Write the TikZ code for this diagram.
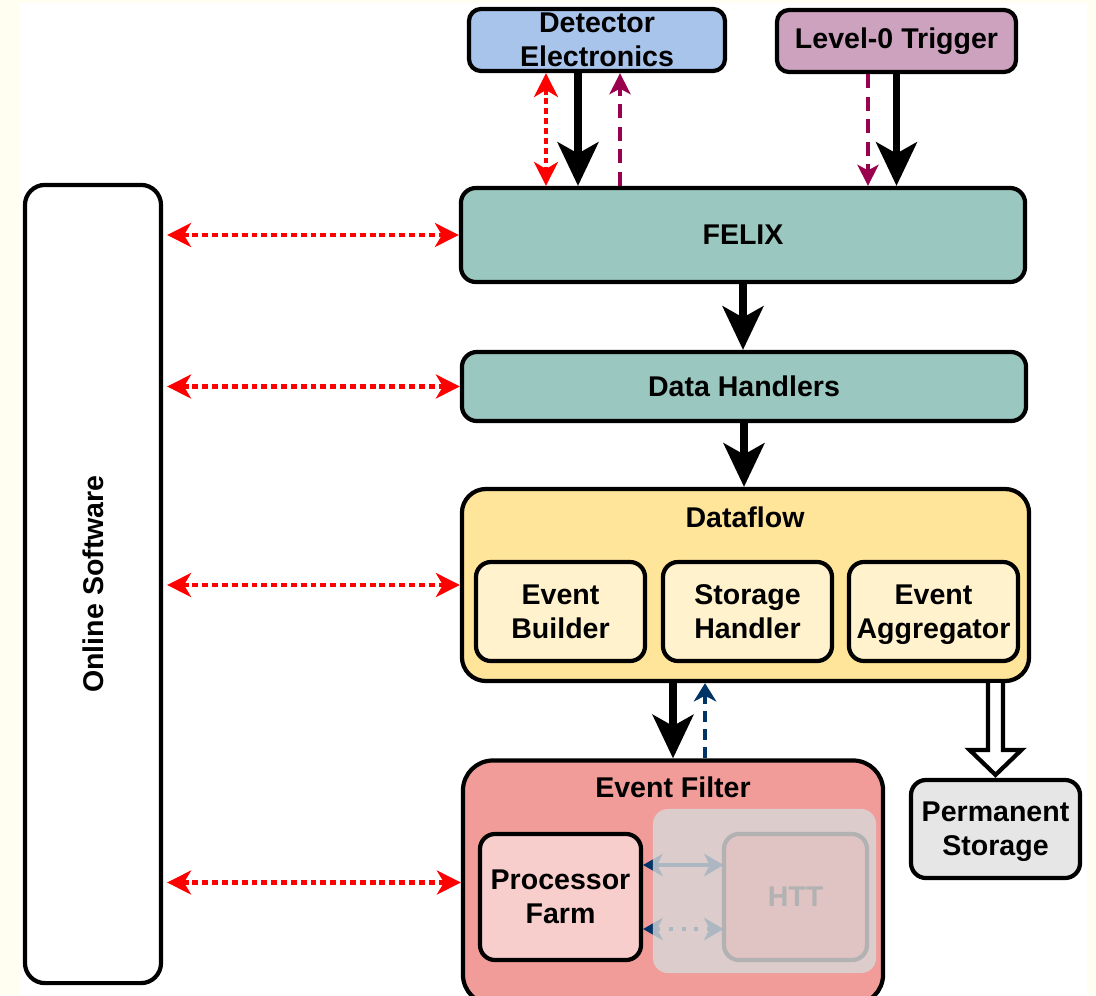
\documentclass[tikz,border=0pt]{standalone}
\usepackage{fontspec}
\setmainfont{Liberation Sans}
\usetikzlibrary{arrows.meta,calc}

\definecolor{detblue}{HTML}{A9C4EB}
\definecolor{trigpink}{HTML}{CDA2BE}
\definecolor{felixgreen}{HTML}{9AC7BF}
\definecolor{dfyellow}{HTML}{FFE599}
\definecolor{dfinner}{HTML}{FFF2CC}
\definecolor{efred}{HTML}{F19C99}
\definecolor{efinner}{HTML}{F8CECC}
\definecolor{storegray}{HTML}{E6E6E6}
\definecolor{ttcpurple}{HTML}{99004D}
\definecolor{busynavy}{HTML}{003366}
\definecolor{paper}{HTML}{FFFEF0}

\begin{document}
\begin{tikzpicture}[x=0.025cm,y=-0.025cm,
  every node/.style={font=\fontsize{20.3}{24}\selectfont\bfseries},
  blk/.style={draw,line width=3pt,rounded corners=0.375cm,align=center,inner sep=0pt},
  data/.style={line width=5pt,-{Stealth[length=31pt,width=29pt,inset=8pt]}},
  ctrl/.style={red,line width=3pt,dash pattern=on 4.2pt off 2.8pt,
    {Stealth[length=17pt,width=17pt,inset=5pt]}-{Stealth[length=17pt,width=17pt,inset=5pt]}},
  ttc/.style={ttcpurple,line width=2.8pt,dash pattern=on 10pt off 6pt,-{Stealth[length=15pt,width=15pt,inset=4pt]}},
  busy/.style={busynavy,line width=2.8pt,dash pattern=on 8pt off 5pt,-{Stealth[length=13pt,width=16pt,inset=4pt]}},
  link/.style={busynavy,line width=2.2pt,{Stealth[length=14pt,width=16pt,inset=4pt]}-{Stealth[length=14pt,width=16pt,inset=4pt]}},
]
\useasboundingbox (0,0) rectangle (1096,995);
\clip (0,0) rectangle (1096,995);
\fill[paper] (0,0) rectangle (1096,995);
\fill[white] (19,3) rectangle (1087,995);

% boxes
\node[blk,rounded corners=0.5cm,minimum width=3.4cm,minimum height=19.95cm,
  label={[rotate=90,font=\fontsize{20.3}{24}\selectfont\bfseries]center:Online Software}] (osw) at (93,584) {};
\node[blk,fill=detblue,rounded corners=0.3cm,minimum width=6.4cm,minimum height=1.55cm] (det) at (597,40) {Detector\\Electronics};
\node[blk,fill=trigpink,rounded corners=0.3cm,minimum width=5.975cm,minimum height=1.55cm] (lzero) at (896.5,41) {Level-0 Trigger};
\node[blk,fill=felixgreen,minimum width=14.1cm,minimum height=2.35cm] (felix) at (743,235) {FELIX};
\node[blk,fill=felixgreen,minimum width=14.1cm,minimum height=1.725cm] (dh) at (744,386.5) {Data Handlers};
\node[blk,fill=dfyellow,rounded corners=0.6cm,minimum width=14.175cm,minimum height=4.8cm] (df) at (745.5,585) {};
\node (dftitle) at (745,517) {Dataflow};
\node[blk,fill=dfinner,minimum width=4.225cm,minimum height=2.475cm] (eb) at (560.5,611.5) {Event\\Builder};
\node[blk,fill=dfinner,minimum width=4.225cm,minimum height=2.475cm] (sh) at (747.5,611.5) {Storage\\Handler};
\node[blk,fill=dfinner,minimum width=4.225cm,minimum height=2.475cm] (ea) at (933.5,611.5) {Event\\\smash{Aggregator}};
\node[blk,fill=efred,rounded corners=0.75cm,minimum width=10.5cm,minimum height=6.1cm] (ef) at (673,882.5) {};
\node (eftitle) at (673,787) {Event Filter};
\node[blk,fill=efinner,minimum width=4.025cm,minimum height=3.15cm] (pf) at (560.5,897) {Processor\\Farm};
\node[blk,fill=storegray,minimum width=4.225cm,minimum height=2.45cm] (perm) at (995.5,829) {Permanent\\\smash{Storage}};

% links to the HTT, greyed out below
\coordinate (l1) at ([yshift=0.8cm]pf.east);
\coordinate (l2) at ([yshift=-0.8cm]pf.east);
\node[inner sep=0pt,minimum width=3.575cm,minimum height=3.15cm] (httpos) at (795.5,897) {};
\draw[link] (l1) -- (l1 -| httpos.west);
\draw[link,dash pattern=on 3pt off 6pt] (l2) -- (l2 -| httpos.west);
\node[fill=black!15,fill opacity=0.8,rounded corners=0.375cm,minimum width=5.575cm,minimum height=4.1cm] (htt grp) at (764.5,891) {};
\node[blk,draw=black!30,fill=black!8!efinner,fill opacity=0.55,text=black!30,text opacity=1,minimum width=3.575cm,minimum height=3.15cm] (htt) at (795.5,897) {HTT};

% control links from the online software
\foreach \blkname in {felix,dh,df,ef}
  \draw[ctrl] ([xshift=0.1cm]osw.east |- \blkname.west) -- (\blkname.west);

% detector and trigger to FELIX
\coordinate (d1) at ([xshift=-1.275cm]det.south);
\coordinate (d2) at ([xshift=-0.475cm]det.south);
\coordinate (d3) at ([xshift=0.575cm]det.south);
\coordinate (t1) at ([xshift=-0.7125cm]lzero.south);
\draw[ctrl] (d1) -- (d1 |- felix.north);
\draw[data] (d2) -- (d2 |- felix.north);
\draw[ttc] (d3 |- felix.north) -- (d3);
\draw[ttc] (t1) -- (t1 |- felix.north);
\draw[data] (lzero.south) -- (lzero.south |- felix.north);

% main data path
\draw[data] (felix.south) -- (felix.south |- dh.north);
\draw[data] (dh.south) -- (dh.south |- df.north);
\draw[data] (ef.north |- df.south) -- (ef.north);
\coordinate (b1) at ([xshift=0.8cm]ef.north);
\draw[busy] (b1) -- (b1 |- df.south);

% hollow arrow into permanent storage
\coordinate (ps) at (perm.north |- df.south);
\draw[line width=3pt,fill=white,line join=miter]
  ($(ps)+(-7.5,0)$) -- ($(perm.north)+(-7.5,-28)$) -- ($(perm.north)+(-26,-28)$)
  -- ($(perm.north)+(0,-3)$) -- ($(perm.north)+(26,-28)$) -- ($(perm.north)+(7.5,-28)$)
  -- ($(ps)+(7.5,0)$);
\end{tikzpicture}
\end{document}
